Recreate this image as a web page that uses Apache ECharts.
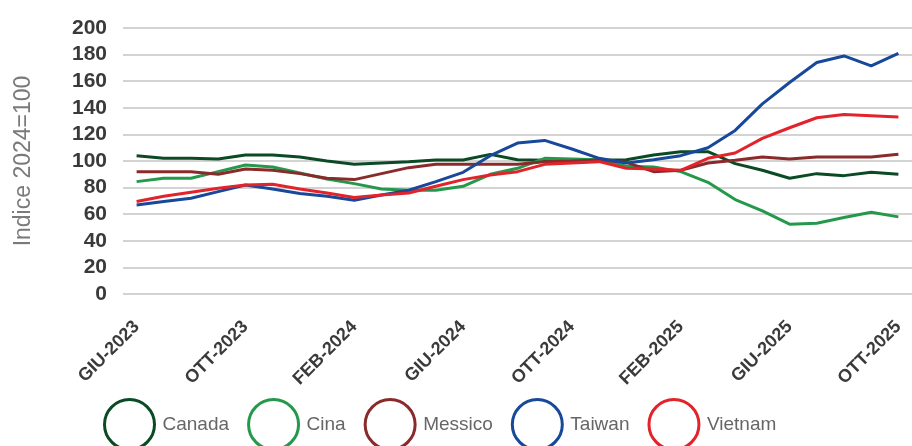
<!DOCTYPE html>
<html>
<head>
<meta charset="utf-8">
<script src="https://cdn.jsdelivr.net/npm/echarts@6/dist/echarts.min.js"></script>
<style>
  html, body { margin: 0; padding: 0; background: #fff; }
  #chart { width: 912px; height: 446px; }
</style>
</head>
<body>
<div id="chart"></div>
<script>
// Monthly index values, 2024 = 100 (June 2023 - October 2025)
const months = [
  'GIU-2023','LUG-2023','AGO-2023','SET-2023','OTT-2023','NOV-2023','DIC-2023',
  'GEN-2024','FEB-2024','MAR-2024','APR-2024','MAG-2024','GIU-2024','LUG-2024',
  'AGO-2024','SET-2024','OTT-2024','NOV-2024','DIC-2024','GEN-2025','FEB-2025',
  'MAR-2025','APR-2025','MAG-2025','GIU-2025','LUG-2025','AGO-2025','SET-2025','OTT-2025'
];
const canada  = [104,102,102,101.5,104.5,104.5,103,100,97.5,98.5,99.5,100.8,100.8,105,101,100.5,100,100.5,101,104.5,107,107,98,93,87,90.5,89,91.5,90];
const cina    = [84.5,87,87,92,97,95.5,91,86.5,83,79,78,78,81,90,94.5,102,101.5,101,96,95.5,92,84,71,62.5,52.5,53.2,57.5,61.5,58];
const messico = [92,92,92,90,94,93,90.5,87,86,90.5,95,97.5,97.5,97.5,97.5,99.5,100,100.8,99,92,93,98.5,100.5,103,101.5,103,103,103,105];
const taiwan  = [67,69.5,72,77,82,79,75.5,73.5,70.5,74.5,78,84.5,91.5,104,113.5,115.5,109,102,98.5,101,104,110,123,143,159,174,179,171.5,181];
const vietnam = [69.5,73.5,76.5,79.5,82,82.5,79,76,72.5,74.5,76,81,86,89.5,92,97.5,98.5,99.5,94.5,94,93,102,106,117,125,132.5,135,134,133];
const yTicks = [0,20,40,60,80,100,120,140,160,180,200];

const seriesDefs = [
  { name: 'Canada',  data: canada,  color: '#0b4a24' },
  { name: 'Cina',    data: cina,    color: '#25994b' },
  { name: 'Messico', data: messico, color: '#8a2b2b' },
  { name: 'Taiwan',  data: taiwan,  color: '#17489a' },
  { name: 'Vietnam', data: vietnam, color: '#e2232b' }
];

const tickFont = "'Liberation Sans Narrow','Liberation Sans',Arial,sans-serif";
const plainFont = "'Liberation Sans',Arial,sans-serif";

const chart = echarts.init(document.getElementById('chart'));
chart.setOption({
  animation: false,
  grid: { left: 123, right: -4, top: 28, bottom: 152, containLabel: false },
  xAxis: {
    type: 'category',
    data: months,
    boundaryGap: true,
    axisLine: { show: false },
    axisTick: { show: false },
    axisLabel: {
      interval: 3,
      rotate: 45,
      margin: 30,
      color: '#3a3a3a',
      fontFamily: tickFont,
      fontWeight: 'bold',
      fontSize: 18
    },
    splitLine: { show: false }
  },
  yAxis: {
    type: 'value',
    min: yTicks[0],
    max: yTicks[yTicks.length - 1],
    interval: 20,
    name: 'Indice 2024=100',
    nameLocation: 'middle',
    nameRotate: 90,
    nameGap: 88,
    nameTextStyle: { color: '#7a7a7a', fontSize: 23, fontFamily: plainFont },
    axisLine: { show: false },
    axisTick: { show: false },
    axisLabel: {
      margin: 16,
      color: '#3a3a3a',
      fontFamily: tickFont,
      fontWeight: 'bold',
      fontSize: 21
    },
    splitLine: { lineStyle: { color: '#c4c4c4', width: 1.5 } }
  },
  legend: {
    left: 103,
    top: 398,
    padding: 0,
    itemWidth: 50,
    itemHeight: 50,
    itemGap: 18,
    icon: 'circle',
    textStyle: { color: '#666666', fontSize: 19, fontFamily: plainFont, padding: [0, 0, 0, 3] },
    data: seriesDefs.map(s => ({
      name: s.name,
      itemStyle: { color: '#ffffff', borderColor: s.color, borderWidth: 3 }
    }))
  },
  series: seriesDefs.map(s => ({
    name: s.name,
    type: 'line',
    data: s.data,
    symbol: 'none',
    smooth: false,
    color: s.color,
    lineStyle: { color: s.color, width: 3 }
  }))
});
</script>
</body>
</html>
